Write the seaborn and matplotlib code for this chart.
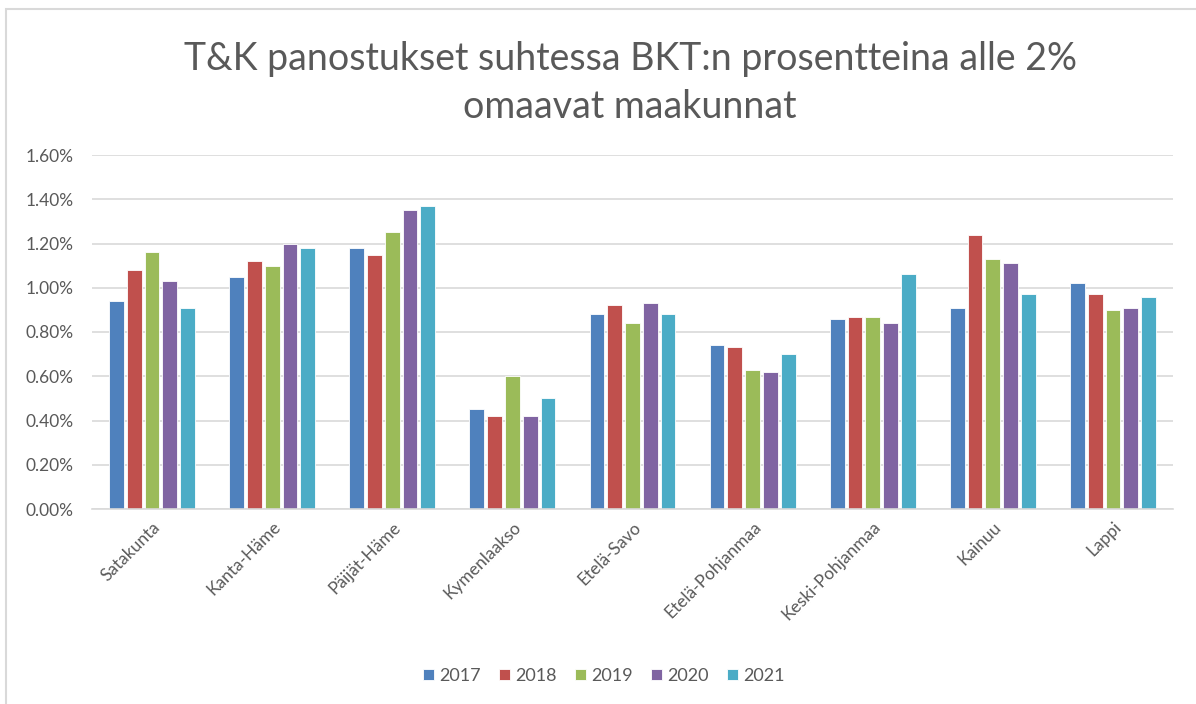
import pandas as pd
import matplotlib
matplotlib.use("Agg")
import matplotlib.pyplot as plt
import seaborn as sns
from matplotlib.patches import Rectangle
from matplotlib.ticker import FuncFormatter

# Data (percent of GDP)
regions = ["Satakunta", "Kanta-Häme", "Päijät-Häme", "Kymenlaakso", "Etelä-Savo",
           "Etelä-Pohjanmaa", "Keski-Pohjanmaa", "Kainuu", "Lappi"]
years = ["2017", "2018", "2019", "2020", "2021"]
v2017 = [0.94, 1.05, 1.18, 0.45, 0.88, 0.74, 0.86, 0.91, 1.02]
v2018 = [1.08, 1.12, 1.15, 0.42, 0.92, 0.73, 0.87, 1.24, 0.97]
v2019 = [1.16, 1.10, 1.25, 0.60, 0.84, 0.63, 0.87, 1.13, 0.90]
v2020 = [1.03, 1.20, 1.35, 0.42, 0.93, 0.62, 0.84, 1.11, 0.91]
v2021 = [0.91, 1.18, 1.37, 0.50, 0.88, 0.70, 1.06, 0.97, 0.96]
colors = ["#4F81BD", "#C0504D", "#9BBB59", "#8064A2", "#4BACC6"]

df = pd.DataFrame({"Maakunta": regions, "2017": v2017, "2018": v2018,
                   "2019": v2019, "2020": v2020, "2021": v2021})
long_df = df.melt(id_vars="Maakunta", var_name="Vuosi", value_name="Osuus")

sns.set_style("white")
plt.rcParams["font.family"] = ["Lato", "DejaVu Sans"]
text_col = "#595959"

fig = plt.figure(figsize=(11.96, 7.04), dpi=100)
ax = fig.add_axes([92 / 1196, 1 - 509 / 704, (1173 - 92) / 1196, (509 - 155) / 704])

sns.barplot(data=long_df, x="Maakunta", y="Osuus", hue="Vuosi", hue_order=years,
            palette=colors, width=0.74, gap=0.17, edgecolor="white", linewidth=0.6,
            saturation=1, ax=ax)

ax.set_ylim(0, 1.6)
ax.set_yticks([0, 0.2, 0.4, 0.6, 0.8, 1.0, 1.2, 1.4, 1.6])
ax.yaxis.set_major_formatter(FuncFormatter(lambda v, p: f"{v:.2f}%"))
ax.grid(axis="y", color="#D9D9D9", linewidth=1.2)
ax.set_axisbelow(True)
for s in ["top", "right", "left"]:
    ax.spines[s].set_visible(False)
ax.spines["bottom"].set_color("#D9D9D9")
ax.spines["bottom"].set_linewidth(1.2)
ax.set_xlabel("")
ax.set_ylabel("")
ax.tick_params(axis="both", length=0, colors=text_col, labelsize=12.5)
ax.tick_params(axis="y", pad=13)
ax.tick_params(axis="x", pad=7)
plt.setp(ax.get_xticklabels(), rotation=45, ha="right", rotation_mode="anchor")

fig.suptitle("T&K panostukset suhtessa BKT:n prosentteina alle 2%\nomaavat maakunnat",
             x=630 / 1196, y=1 - 41 / 704, fontsize=27, color=text_col,
             linespacing=1.4, va="top")

leg = ax.legend(loc="center", bbox_to_anchor=(604 / 1196, 1 - 676 / 704),
                bbox_transform=fig.transFigure, ncol=5, frameon=False,
                handlelength=0.6, handleheight=0.6, handletextpad=0.3,
                columnspacing=1.0, fontsize=13)
for t in leg.get_texts():
    t.set_color(text_col)

# light chart frame like the source screenshot
fig.patches.append(Rectangle((6 / 1196, -0.1), 1.2, 1 - 9 / 704 + 0.1,
                             transform=fig.transFigure, fill=False,
                             edgecolor="#D9D9D9", linewidth=1.5))

fig.savefig("out.png", dpi=100)
